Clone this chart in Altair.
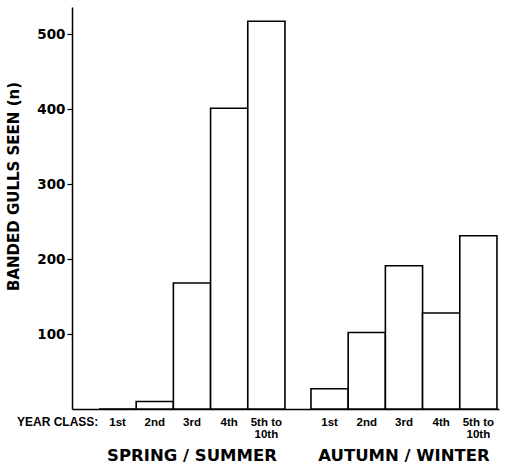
import altair as alt
import pandas as pd

seasons = ["SPRING / SUMMER", "AUTUMN / WINTER"]
year_classes = ["1st", "2nd", "3rd", "4th", "5th to\n10th"]
spring_summer = [0, 10, 168, 401, 517]
autumn_winter = [27, 102, 191, 128, 231]
y_ticks = [100, 200, 300, 400, 500]
year_class_caption = ["YEAR CLASS:"]

rows = []
for s, vals in zip(seasons, [spring_summer, autumn_winter]):
    for yc, v in zip(year_classes, vals):
        rows.append({"season": s, "year_class": yc, "seen": v})
df = pd.DataFrame(rows)

x = alt.X(
    "season:N",
    sort=seasons,
    scale=alt.Scale(paddingInner=0.1226, paddingOuter=0.0684, align=0.93),
    axis=alt.Axis(
        title=None, ticks=False, labelAngle=0, labelFont="DejaVu Sans",
        labelFontWeight="bold", labelFontSize=16.5, labelColor="black",
        labelPadding=51, labelBaseline="alphabetic",
        domainColor="black", domainWidth=1.5,
    ),
)
xo = alt.XOffset("year_class:N", sort=year_classes,
                 scale=alt.Scale(paddingInner=0, paddingOuter=0))

y = alt.Y(
    "seen:Q",
    scale=alt.Scale(domain=[0, 536], nice=False, zero=True),
    axis=alt.Axis(
        values=y_ticks, title="BANDED GULLS SEEN (n)",
        titleFont="DejaVu Sans", titleFontSize=15, titleFontWeight="bold",
        titleColor="black", titleX=-59, titleY=179, titleAngle=270,
        titleAlign="center", titleBaseline="middle",
        labelFont="DejaVu Sans", labelFontSize=13.5, labelFontWeight="bold",
        labelColor="black", labelPadding=2, tickSize=5, tickColor="black",
        tickWidth=1.2, domainColor="black", domainWidth=1.5, grid=False,
    ),
)

bars = alt.Chart(df).mark_bar(fill="white", stroke="black", strokeWidth=1.6).encode(
    x=x, xOffset=xo, y=y
)

labels = alt.Chart(df).mark_text(
    font="Liberation Sans", fontWeight="bold", fontSize=11.5, lineBreak="\n",
    lineHeight=11.5, baseline="alphabetic", align="center", color="black",
).encode(x=x, xOffset=xo, y=alt.value(419), text="year_class:N")

caption = alt.Chart(pd.DataFrame({"t": year_class_caption})).mark_text(
    font="Liberation Sans", fontWeight="bold", fontSize=12,
    baseline="alphabetic", align="left", color="black",
).encode(x=alt.value(-55), y=alt.value(419), text="t:N")

chart = alt.layer(bars, labels, caption).properties(
    width=427, height=402,
    autosize=alt.AutoSizeParams(type="none"),
    padding={"left": 72, "top": 7, "right": 8, "bottom": 56},
    background="white",
).configure_view(stroke=None)

chart.save("out.html", embed_options={"renderer": "svg", "actions": False})
